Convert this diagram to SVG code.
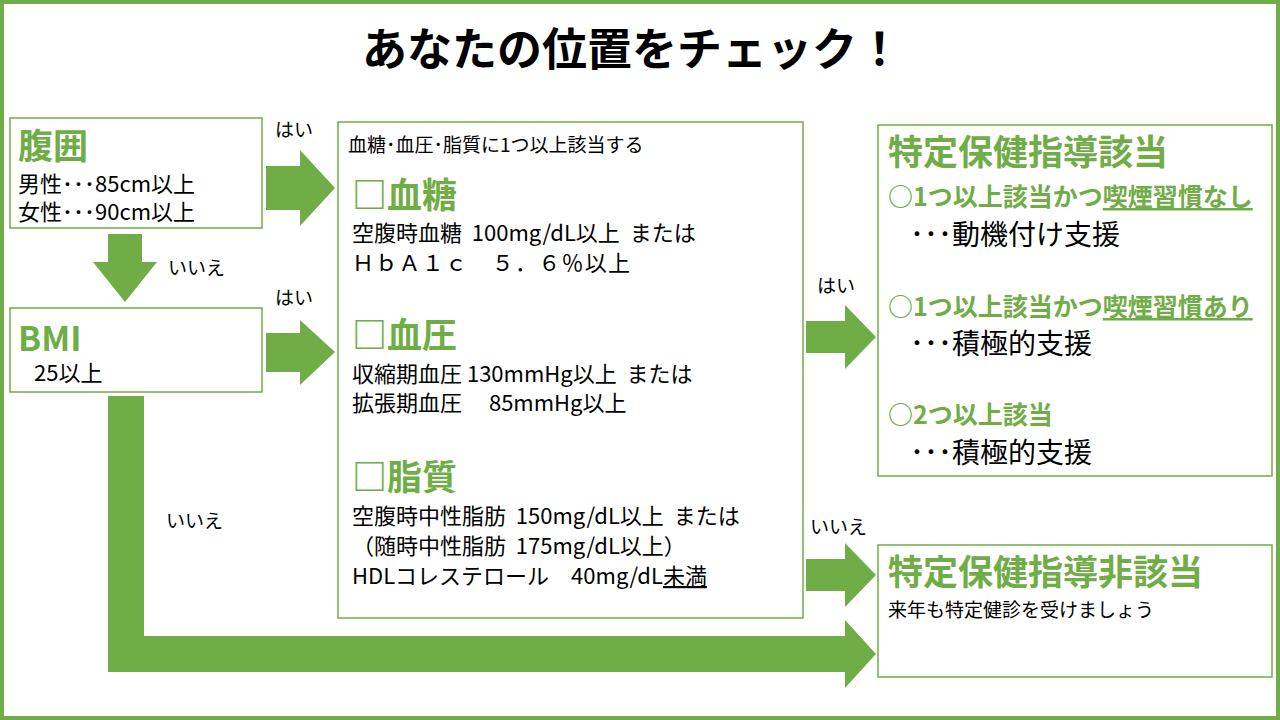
<svg xmlns="http://www.w3.org/2000/svg" width="1280" height="720" viewBox="0 0 1280 720" xml:space="preserve">
<style>
text{font-family:"Noto Sans CJK JP","Liberation Sans",sans-serif;fill:#000;white-space:pre}
.box{fill:#fff;stroke:#70AD47;stroke-width:1.5}
.arr{fill:#70AD47}
.g{fill:#70AD47;font-weight:bold}
.h{font-size:35px}
.m{font-size:25px}
.b{font-size:22px}
.s{font-size:19px}
.l{font-size:28px}
.u{text-decoration:underline}
</style>
<rect x="0" y="0" width="1280" height="720" fill="#fff"/>
<rect x="2" y="2" width="1276" height="716" fill="none" stroke="#70AD47" stroke-width="4"/>
<text x="632" y="66" text-anchor="middle" font-size="45" font-weight="bold">あなたの位置をチェック！</text>
<g id="connectors">
<polygon class="arr" points="266,166 300,166 300,150 335,188 300,226 300,210 266,210"/>
<polygon class="arr" points="108,234 142,234 142,262 157,262 125,302 93,262 108,262"/>
<polygon class="arr" points="266,333 300,333 300,320 335,352 300,385 300,372 266,372"/>
<polygon class="arr" points="806,321 845,321 845,305 876,337 845,369 845,353 806,353"/>
<polygon class="arr" points="806,559 845,559 845,543 876,575 845,607 845,591 806,591"/>
<polygon class="arr" points="108,396 144,396 144,636 845,636 845,620 876,654 845,688 845,672 108,672"/>
<text x="275" y="137" class="s">はい</text>
<text x="275" y="305" class="s">はい</text>
<text x="168" y="275" class="s">いいえ</text>
<text x="166" y="528" class="s">いいえ</text>
<text x="817" y="293" class="s">はい</text>
<text x="810" y="534" class="s">いいえ</text>
</g>
<g id="waist">
<rect class="box" x="10" y="118" width="252" height="110"/>
<text x="18" y="159" class="g h">腹囲</text>
<text x="18" y="192" class="b">男性･･･85cm以上</text>
<text x="18" y="220" class="b">女性･･･90cm以上</text>
</g>
<g id="bmi">
<rect class="box" x="10" y="308" width="252" height="84"/>
<text x="18" y="351" class="g" font-size="34" font-family="Liberation Sans">BMI</text>
<text x="34" y="381" class="b">25以上</text>
</g>
<g id="criteria">
<rect class="box" x="338" y="122" width="465" height="496"/>
<text x="348" y="152" class="s">血糖･血圧･脂質に1つ以上該当する</text>
<text x="352" y="208" class="g h">□血糖</text>
<text x="352" y="241" class="b">空腹時血糖  100mg/dL以上  または</text>
<text x="352" y="271" class="b" textLength="278" lengthAdjust="spacing">ＨｂＡ１ｃ　５．６％以上</text>
<text x="352" y="348" class="g h">□血圧</text>
<text x="352" y="382" class="b">収縮期血圧 130mmHg以上  または</text>
<text x="352" y="411" class="b">拡張期血圧　 85mmHg以上</text>
<text x="352" y="490" class="g h">□脂質</text>
<text x="352" y="524" class="b">空腹時中性脂肪  150mg/dL以上  または</text>
<text x="352" y="554" class="b">（随時中性脂肪  175mg/dL以上）</text>
<text x="352" y="584" class="b">HDLコレステロール　40mg/dL<tspan class="u">未満</tspan></text>
</g>
<g id="target">
<rect class="box" x="878" y="125" width="394" height="351"/>
<text x="888" y="165" class="g h">特定保健指導該当</text>
<text x="888" y="206" class="g m">○1つ以上該当かつ<tspan class="u">喫煙習慣なし</tspan></text>
<text x="910" y="245" class="l">･･･動機付け支援</text>
<text x="888" y="316" class="g m">○1つ以上該当かつ<tspan class="u">喫煙習慣あり</tspan></text>
<text x="910" y="354" class="l">･･･積極的支援</text>
<text x="888" y="424" class="g m">○2つ以上該当</text>
<text x="910" y="463" class="l">･･･積極的支援</text>
</g>
<g id="nontarget">
<rect class="box" x="878" y="545" width="394" height="132"/>
<text x="888" y="585" class="g h">特定保健指導非該当</text>
<text x="888" y="617" class="s">来年も特定健診を受けましょう</text>
</g>
</svg>
